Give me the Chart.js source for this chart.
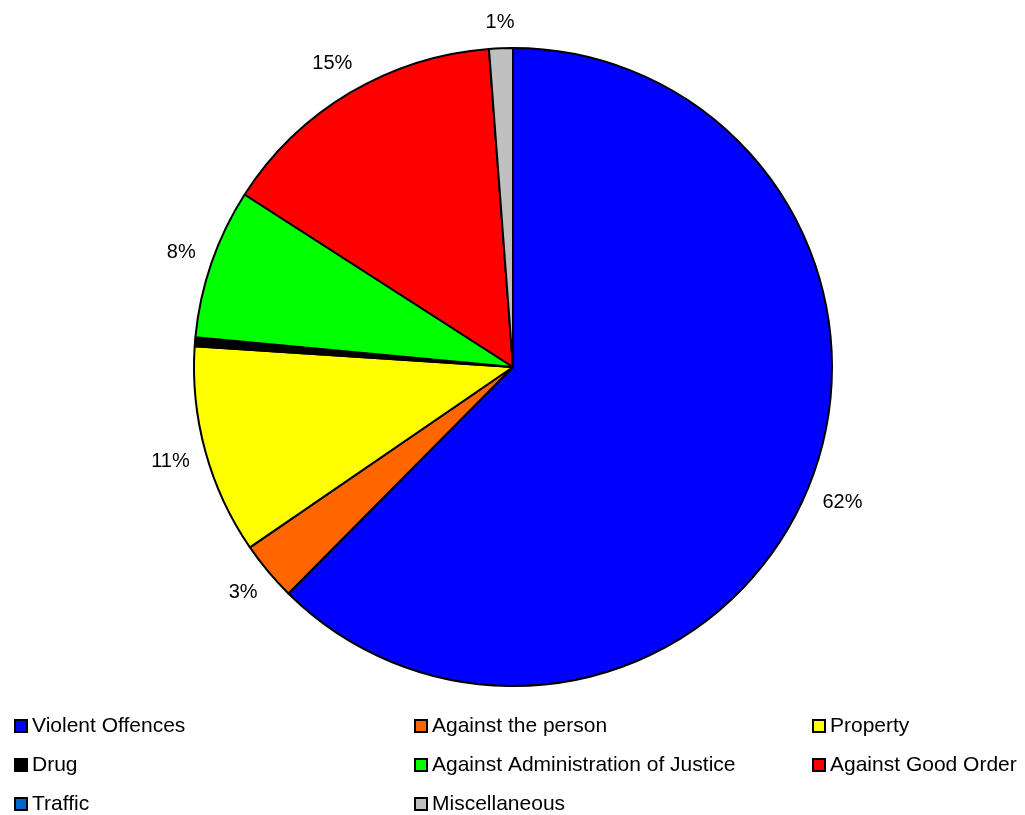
<!DOCTYPE html>
<html>
<head>
<meta charset="utf-8">
<script src="https://cdn.jsdelivr.net/npm/chart.js@4.4.1/dist/chart.umd.min.js"></script>
<style>
html,body{margin:0;padding:0;background:#fff;}
#wrap{width:1025px;height:815px;position:relative;}
</style>
</head>
<body>
<div id="wrap"><canvas id="c" width="1025" height="815"></canvas></div>
<script>
const categories = ["Violent Offences","Against the person","Property","Drug","Against Administration of Justice","Against Good Order","Traffic","Miscellaneous"];
const values = [62.4, 3.0, 10.6, 0.45, 7.6, 14.7, 0, 1.2];
const colors = ["#0000FF","#FF6600","#FFFF00","#000000","#00FF00","#FF0000","#0066CC","#C0C0C0"];
const legendColumns = [14, 414, 812];
const legendRows = [726, 765, 804];

const FONT = '"Liberation Sans", Arial, sans-serif';

const labelPlugin = {
  id: 'pctLabels',
  afterDatasetsDraw(chart) {
    const ctx = chart.ctx;
    const meta = chart.getDatasetMeta(0);
    const total = values.reduce((a, b) => a + b, 0);
    ctx.save();
    ctx.font = '20px ' + FONT;
    ctx.fillStyle = '#000';
    ctx.textAlign = 'center';
    ctx.textBaseline = 'middle';
    meta.data.forEach((arc, i) => {
      const pct = values[i] / total * 100;
      const r = Math.round(pct);
      if (r < 1 || pct < 0.5) return;
      const p = arc.getProps(['x','y','startAngle','endAngle','outerRadius'], true);
      const mid = (p.startAngle + p.endAngle) / 2;
      const text = r + '%';
      const w = ctx.measureText(text).width;
      const d = p.outerRadius + 15 + Math.abs(Math.cos(mid)) * w / 2 + Math.abs(Math.sin(mid)) * 10;
      ctx.fillText(text, p.x + Math.cos(mid) * d, p.y + Math.sin(mid) * d);
    });
    ctx.restore();
  }
};

const legendPlugin = {
  id: 'gridLegend',
  afterDraw(chart) {
    const ctx = chart.ctx;
    ctx.save();
    ctx.font = '21px ' + FONT;
    ctx.textBaseline = 'middle';
    ctx.textAlign = 'left';
    categories.forEach((name, i) => {
      const col = i % 3, row = Math.floor(i / 3);
      const x = legendColumns[col], y = legendRows[row];
      ctx.fillStyle = colors[i];
      ctx.fillRect(x + 1, y - 6, 12, 12);
      ctx.strokeStyle = '#000';
      ctx.lineWidth = 2;
      ctx.strokeRect(x + 1, y - 6, 12, 12);
      ctx.fillStyle = '#000';
      ctx.fillText(name, x + 18, y);
    });
    ctx.restore();
  }
};

new Chart(document.getElementById('c'), {
  type: 'pie',
  data: {
    labels: categories,
    datasets: [{
      data: values,
      backgroundColor: colors,
      borderColor: '#000',
      borderWidth: 2,
      hoverOffset: 0,
      offset: 0
    }]
  },
  options: {
    responsive: false,
    animation: false,
    events: [],
    layout: { padding: { top: 47, bottom: 128, left: 193, right: 192 } },
    plugins: { legend: { display: false }, tooltip: { enabled: false } }
  },
  plugins: [labelPlugin, legendPlugin]
});
</script>
</body>
</html>
